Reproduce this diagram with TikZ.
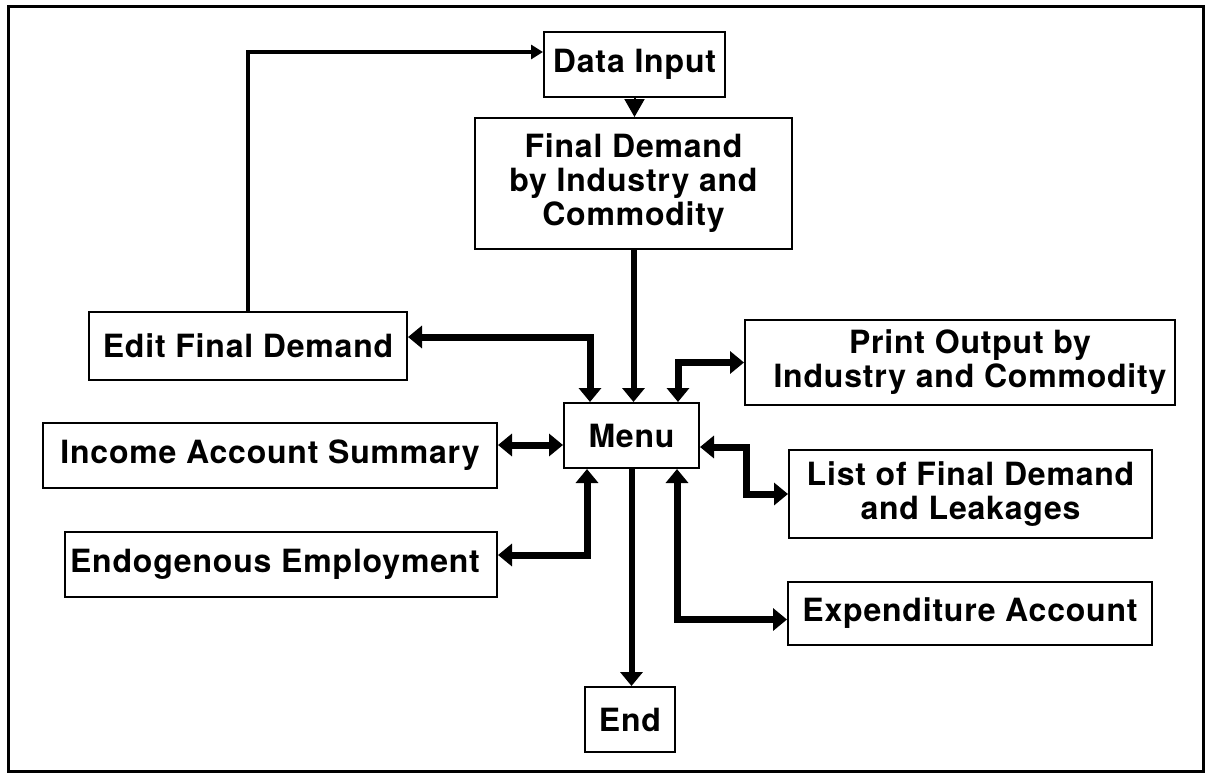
\documentclass[tikz,border=0pt]{standalone}
\usepackage{fontspec}
\setmainfont{TeX Gyre Heros}[LetterSpace=2.5]
\usetikzlibrary{arrows.meta}
\begin{document}
\begin{tikzpicture}[x=0.5pt,y=-0.5pt,
  box/.style={draw, line width=1pt, inner sep=0pt, align=center,
    font=\bfseries\fontsize{16}{17}\selectfont},
  dbl/.style={line width=3.5pt, {Triangle[length=7pt,width=11pt]}-{Triangle[length=7pt,width=11pt]}},
  sgl/.style={line width=3pt, -{Triangle[length=7pt,width=11pt]}},
  thinarr/.style={line width=2pt, -{Triangle[length=6pt,width=7pt]}},
  headarr/.style={line width=1pt, -{Triangle[length=9pt,width=10pt]}}]
\useasboundingbox (0,0) rectangle (1205,777);
\draw[line width=1.5pt] (8,6) rectangle (1203,771);

\node[box, minimum width=90.5pt, minimum height=32.5pt] (data) at (634.5,64.5) {Data Input};
\node[box, minimum width=158.5pt, minimum height=65.5pt] (fd) at (633.5,183.5) {Final Demand\\by Industry and\\Commodity};
\node[box, minimum width=159pt, minimum height=34pt] (edit) at (248,346) {Edit Final Demand};
\node[box, minimum width=215pt, minimum height=42.5pt] (print) at (960,362.5) {\hspace*{10pt}Print Output by\\\hspace*{10pt}Industry and Commodity};
\node[box, minimum width=67.5pt, minimum height=32.5pt] (menu) at (631.5,435.5) {Menu};
\node[box, minimum width=227pt, minimum height=32.5pt] (income) at (270,455.5) {Income Account Summary};
\node[box, minimum width=181.5pt, minimum height=44pt] (list) at (970.5,494) {List of Final Demand\\and Leakages};
\node[box, minimum width=216pt, minimum height=32.5pt] (endo) at (281,564.5) {Endogenous Employment\hspace*{6pt}};
\node[box, minimum width=182pt, minimum height=31.5pt] (exp) at (970,613.5) {Expenditure Account};
\node[box, minimum width=45pt, minimum height=32.5pt] (end) at (630,719.5) {End};

\draw[thinarr] (edit.north) |- ([yshift=6.25pt]data.west);
\draw[headarr] (data.south) -- (data.south |- fd.north);
\draw[sgl] (fd.south) -- (fd.south |- menu.north);
\draw[dbl] ([xshift=-20.75pt]menu.north) |- ([yshift=4.5pt]edit.east);
\draw[dbl] ([xshift=23.25pt]menu.north) |- (print.west);
\draw[dbl] ([yshift=5.25pt]income.east) -- ([yshift=5.25pt]income.east -| menu.west);
\draw[dbl] ([xshift=-22.25pt]menu.south) |- ([yshift=4.75pt]endo.east);
\draw[dbl] ([yshift=-5.75pt]menu.east) -- ++(23pt,0) |- (list.west);
\draw[dbl] ([xshift=22.75pt]menu.south) |- ([yshift=-3pt]exp.west);
\draw[sgl] (menu.south) -- (menu.south |- end.north);
\end{tikzpicture}
\end{document}
